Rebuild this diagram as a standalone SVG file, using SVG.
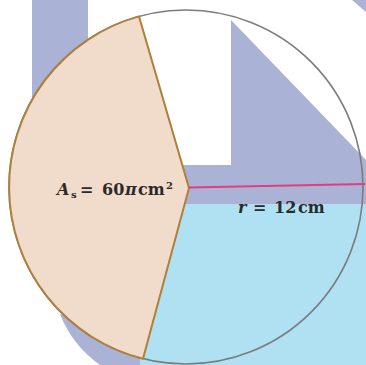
<svg xmlns="http://www.w3.org/2000/svg" width="366" height="365" viewBox="0 0 366 365">
<style>
.lav{fill:#aab3d6}
.lbl{font-family:"DejaVu Serif","Liberation Serif",serif;font-weight:bold;font-size:16px;fill:#2a2a2a}
.sm{font-size:10px}
</style>
<rect width="366" height="365" fill="#ffffff"/>
<g id="background">
<rect class="lav" x="32" y="0" width="56" height="110"/>
<path class="lav" d="M60,314 Q72,345 100,365 L145,365 L145,330 Z"/>
<polygon class="lav" points="352,0 366,0 366,12"/>
<rect x="140" y="203" width="226" height="162" fill="#b0e1f3"/>
<polygon class="lav" points="231,20 366,160 366,204 178,204 178,165 231,165"/>
</g>
<g id="circle">
<circle cx="186" cy="187" r="177" fill="none" stroke="#7c7c7c" stroke-width="1.6"/>
</g>
<g id="sector">
<path d="M189,188 L139,16.4 A177,177 0 0 0 143,358.7 Z" fill="#f1dccb" stroke="#ad813c" stroke-width="2" stroke-linejoin="round"/>
</g>
<g id="connectors">
<line x1="189" y1="187.5" x2="365" y2="184" stroke="#df3f7e" stroke-width="1.8"/>
</g>
<g id="label-area">
<text class="lbl" y="195"><tspan x="57" font-style="italic">A</tspan><tspan class="sm" x="71" y="198">s</tspan><tspan x="80" y="195">=</tspan><tspan x="102">60</tspan><tspan x="125" font-style="italic">π</tspan><tspan x="138">cm</tspan><tspan class="sm" x="166" y="189">2</tspan></text>
</g>
<g id="label-radius">
<text class="lbl" y="213"><tspan x="238" font-style="italic">r</tspan><tspan x="253">=</tspan><tspan x="274">12</tspan><tspan x="298">cm</tspan></text>
</g>
</svg>
